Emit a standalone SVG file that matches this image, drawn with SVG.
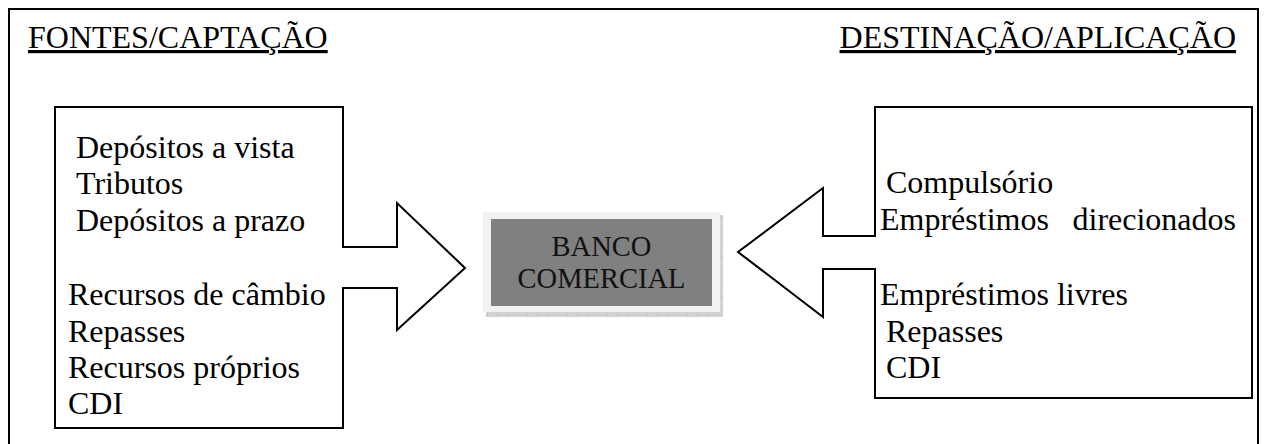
<svg xmlns="http://www.w3.org/2000/svg" width="1267" height="444" viewBox="0 0 1267 444">
<style>
.t{font-family:"Liberation Serif","Times New Roman",Times,serif;font-size:32px;fill:#000}
.h{text-decoration:underline}
.c{font-family:"Liberation Serif","Times New Roman",Times,serif;font-size:28.5px;fill:#111;text-anchor:middle}
.ln{fill:#fff;stroke:#000;stroke-width:2}
</style>
<rect id="frame" x="9" y="9" width="1249" height="520" fill="#fff" stroke="#000" stroke-width="2"/>
<text class="t h" x="28" y="48">FONTES/CAPTAÇÃO</text>
<text class="t h" x="1236" y="48" text-anchor="end">DESTINAÇÃO/APLICAÇÃO</text>
<g id="connectors">
</g>
<g id="fontes">
<path class="ln" d="M55,107 H343 V247 H397 V203 L465,268 L397,330 V288 H343 V428 H55 Z"/>
<text class="t" x="76" y="158">Depósitos a vista</text>
<text class="t" x="76" y="194">Tributos</text>
<text class="t" x="76" y="231">Depósitos a prazo</text>
<text class="t" x="68" y="305">Recursos de câmbio</text>
<text class="t" x="68" y="342">Repasses</text>
<text class="t" x="68" y="378">Recursos próprios</text>
<text class="t" x="68" y="414">CDI</text>
</g>
<g id="destinacao">
<path class="ln" d="M875,107 H1252 V398 H875 V269 H823 V317 L738,252 L823,188 V236 H875 Z"/>
<text class="t" x="886" y="193">Compulsório</text>
<text class="t" y="230"><tspan x="880">Empréstimos</tspan><tspan x="1236" text-anchor="end">direcionados</tspan></text>
<text class="t" x="880" y="305">Empréstimos livres</text>
<text class="t" x="886" y="342">Repasses</text>
<text class="t" x="886" y="378">CDI</text>
</g>
<g id="banco">
<rect x="486" y="215" width="237" height="102" fill="#d2d2d2"/>
<line x1="487" y1="315" x2="723" y2="315" stroke="#a8a8a8" stroke-width="1" stroke-dasharray="1 9"/>
<line x1="722" y1="216" x2="722" y2="316" stroke="#a8a8a8" stroke-width="1" stroke-dasharray="1 9"/>
<rect x="483" y="212" width="237" height="100" fill="#f2f2f2"/>
<rect x="491" y="219" width="221" height="87" fill="#808080"/>
<text class="c" x="601.5" y="256">BANCO</text>
<text class="c" x="601.5" y="288">COMERCIAL</text>
</g>
</svg>
